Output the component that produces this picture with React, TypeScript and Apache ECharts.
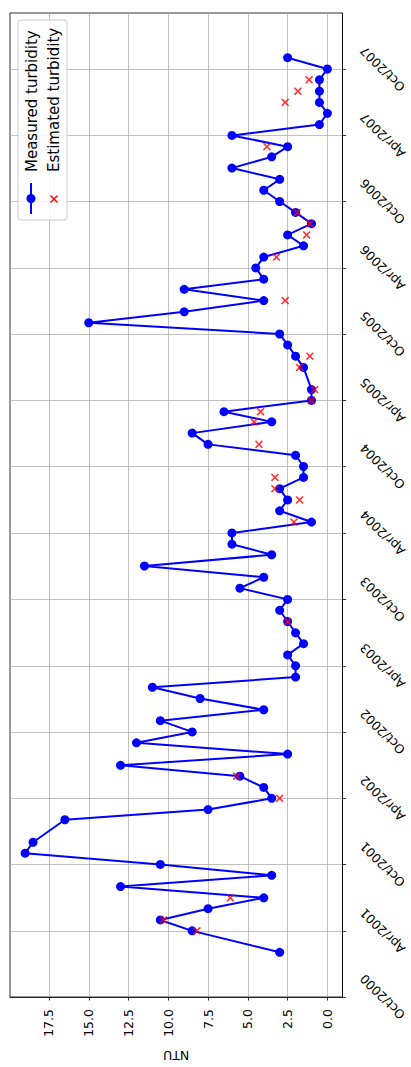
import React, { useEffect, useRef } from 'react';
import * as echarts from 'echarts';

const FONT = 'DejaVu Sans';

// Measured turbidity (NTU), monthly samples
const measuredDates = [
  '2001-02-01', '2001-04-01', '2001-05-01', '2001-06-01', '2001-07-01', '2001-08-01', '2001-09-01', '2001-10-01', '2001-11-01', '2001-12-01',
  '2002-02-01', '2002-03-01', '2002-04-01', '2002-05-01', '2002-06-01', '2002-07-01', '2002-08-01', '2002-09-01', '2002-10-01', '2002-11-01', '2002-12-01',
  '2003-01-01', '2003-02-01', '2003-03-01', '2003-04-01', '2003-05-01', '2003-06-01', '2003-07-01', '2003-08-01', '2003-09-01', '2003-10-01', '2003-11-01', '2003-12-01',
  '2004-01-01', '2004-02-01', '2004-03-01', '2004-04-01', '2004-05-01', '2004-06-01', '2004-07-01', '2004-08-01', '2004-09-01', '2004-10-01', '2004-11-01', '2004-12-01',
  '2005-01-01', '2005-02-01', '2005-03-01', '2005-04-01', '2005-05-01', '2005-07-01', '2005-08-01', '2005-09-01', '2005-10-01', '2005-11-01', '2005-12-01',
  '2006-01-01', '2006-02-01', '2006-03-01', '2006-04-01', '2006-05-01', '2006-06-01', '2006-07-01', '2006-08-01', '2006-09-01', '2006-10-01', '2006-11-01', '2006-12-01',
  '2007-01-01', '2007-02-01', '2007-03-01', '2007-04-01', '2007-05-01', '2007-06-01', '2007-07-01', '2007-08-01', '2007-09-01', '2007-10-01', '2007-11-01',
];
const measuredValues = [
  3, 8.5, 10.5, 7.5, 4, 13, 3.5, 10.5, 19, 18.5,
  16.5, 7.5, 3.5, 4, 5.5, 13, 2.5, 12, 8.5, 10.5, 4,
  8, 11, 2, 2, 2.5, 1.5, 2, 2.5, 3, 2.5, 5.5, 4,
  11.5, 3.5, 6, 6, 1, 3, 2.5, 3, 1.5, 1.5, 2, 7.5,
  8.5, 3.5, 6.5, 1, 1, 1.5, 2, 2.5, 3, 15, 9,
  4, 9, 4, 4.5, 4, 1.5, 2.5, 1, 2, 3, 4, 3,
  6, 3.5, 2.5, 6, 0.5, 0, 0.5, 0.5, 0.5, 0, 2.5,
];

// Estimated turbidity (NTU)
const estimatedDates = [
  '2001-04-01', '2001-05-01', '2001-07-01', '2002-04-01', '2002-06-01', '2003-08-01',
  '2004-05-01', '2004-07-01', '2004-08-01', '2004-09-01', '2004-12-01',
  '2005-02-01', '2005-03-01', '2005-04-01', '2005-05-01', '2005-07-01', '2005-08-01',
  '2006-01-01', '2006-05-01', '2006-07-01', '2006-08-01', '2006-09-01',
  '2007-03-01', '2007-07-01', '2007-08-01', '2007-09-01',
];
const estimatedValues = [
  8.2, 10.3, 6.1, 3.0, 5.7, 2.5,
  2.1, 1.75, 3.3, 3.3, 4.3,
  4.6, 4.2, 1.0, 0.8, 1.75, 1.1,
  2.65, 3.2, 1.3, 1.1, 1.9,
  3.8, 2.65, 1.85, 1.15,
];

// Tick labels
const dateTicks = [
  '2000-10-01', '2001-04-01', '2001-10-01', '2002-04-01', '2002-10-01', '2003-04-01', '2003-10-01', '2004-04-01',
  '2004-10-01', '2005-04-01', '2005-10-01', '2006-04-01', '2006-10-01', '2007-04-01', '2007-10-01',
];
const ntuTicks = [0, 2.5, 5, 7.5, 10, 12.5, 15, 17.5];
const monthNames = ['Jan', 'Feb', 'Mar', 'Apr', 'May', 'Jun', 'Jul', 'Aug', 'Sep', 'Oct', 'Nov', 'Dec'];

const toTs = (s: string) => {
  const [y, m, d] = s.split('-').map(Number);
  return Date.UTC(y, m - 1, d);
};

const X_PATH = 'path://M0,1.4L1.4,0L5,3.6L8.6,0L10,1.4L6.4,5L10,8.6L8.6,10L5,6.4L1.4,10L0,8.6L3.6,5Z';

export default function App() {
  const ref = useRef<HTMLDivElement>(null);

  useEffect(() => {
    if (!ref.current) return;
    const chart = echarts.init(ref.current, null, { renderer: 'svg' });

    const measured = measuredDates.map((d, i) => [measuredValues[i], toTs(d)]);
    const estimated = estimatedDates.map((d, i) => [estimatedValues[i], toTs(d)]);

    const allT = [...measuredDates, ...estimatedDates].map(toTs);
    const allV = [...measuredValues, ...estimatedValues];
    const tLo = Math.min(...allT), tHi = Math.max(...allT);
    const vLo = Math.min(...allV), vHi = Math.max(...allV);
    const tPad = (tHi - tLo) * 0.05;
    const vPad = (vHi - vLo) * 0.05;

    const option: any = {
      animation: false,
      grid: {
        left: 10, right: 68.5, top: 13, bottom: 66,
        show: true, borderColor: '#000', borderWidth: 0.8, backgroundColor: 'transparent',
      },
      xAxis: {
        type: 'value',
        inverse: true,
        position: 'bottom',
        min: vLo - vPad,
        max: vHi + vPad,
        name: 'NTU',
        nameLocation: 'middle',
        nameRotate: 180,
        nameGap: 52,
        nameTextStyle: { fontFamily: FONT, fontSize: 12.5, color: '#000' },
        axisLine: { show: true, onZero: false, lineStyle: { color: '#000', width: 0.8 } },
        axisTick: { show: true, length: 3.5, customValues: ntuTicks, lineStyle: { color: '#000', width: 0.8 } },
        axisLabel: {
          customValues: ntuTicks,
          rotate: 90,
          margin: 12,
          formatter: (v: number) => v.toFixed(1),
          fontFamily: FONT, fontSize: 12.5, color: '#000',
        },
        splitLine: { show: true, lineStyle: { color: '#b0b0b0', width: 0.8 } },
      },
      yAxis: {
        type: 'value',
        position: 'right',
        min: tLo - tPad,
        max: tHi + tPad,
        axisLine: { show: true, onZero: false, lineStyle: { color: '#000', width: 0.8 } },
        axisTick: { show: true, length: 3.5, customValues: dateTicks.map(toTs), lineStyle: { color: '#000', width: 0.8 } },
        axisLabel: {
          customValues: dateTicks.map(toTs),
          rotate: 135,
          align: 'center',
          verticalAlign: 'middle',
          margin: 40,
          formatter: (v: number) => {
            const d = new Date(v);
            return monthNames[d.getUTCMonth()] + '/' + d.getUTCFullYear();
          },
          fontFamily: FONT, fontSize: 12.5, color: '#000',
        },
        splitLine: { show: true, lineStyle: { color: '#b0b0b0', width: 0.8 } },
      },
      series: [
        {
          name: 'Measured turbidity',
          type: 'line',
          data: measured,
          symbol: 'circle',
          symbolSize: 9,
          showSymbol: true,
          lineStyle: { color: '#0000ff', width: 2 },
          itemStyle: { color: '#0000ff' },
          z: 2,
        },
        {
          name: 'Estimated turbidity',
          type: 'scatter',
          data: estimated,
          symbol: X_PATH,
          symbolSize: 8,
          itemStyle: { color: '#ff0000' },
          z: 3,
        },
      ],
      graphic: {
        elements: [
          {
            type: 'rect',
            shape: { x: 18, y: 20, width: 49, height: 200, r: 3 },
            style: { fill: 'rgba(255,255,255,0.8)', stroke: '#cccccc', lineWidth: 1 },
            z: 100,
          },
          {
            type: 'line',
            shape: { x1: 31, y1: 214, x2: 31, y2: 183 },
            style: { stroke: '#0000ff', lineWidth: 2 },
            z: 101,
          },
          {
            type: 'circle',
            shape: { cx: 31, cy: 198.5, r: 4.5 },
            style: { fill: '#0000ff' },
            z: 101,
          },
          {
            type: 'line',
            shape: { x1: 50.5, y1: 195.5, x2: 57.5, y2: 202.5 },
            style: { stroke: '#ff0000', lineWidth: 1.5 },
            z: 101,
          },
          {
            type: 'line',
            shape: { x1: 57.5, y1: 195.5, x2: 50.5, y2: 202.5 },
            style: { stroke: '#ff0000', lineWidth: 1.5 },
            z: 101,
          },
          {
            type: 'text',
            x: 32,
            y: 172,
            rotation: Math.PI / 2,
            style: { text: 'Measured turbidity', fontFamily: FONT, fontSize: 15, fill: '#000', align: 'left', verticalAlign: 'middle' },
            z: 101,
          },
          {
            type: 'text',
            x: 53.5,
            y: 172,
            rotation: Math.PI / 2,
            style: { text: 'Estimated turbidity', fontFamily: FONT, fontSize: 15, fill: '#000', align: 'left', verticalAlign: 'middle' },
            z: 101,
          },
        ],
      },
    };

    chart.setOption(option);
    return () => chart.dispose();
  }, []);

  return (
    <div
      ref={ref}
      style={{ position: 'absolute', left: 0, top: 0, width: 411, height: 1067, background: '#fff' }}
    />
  );
}
